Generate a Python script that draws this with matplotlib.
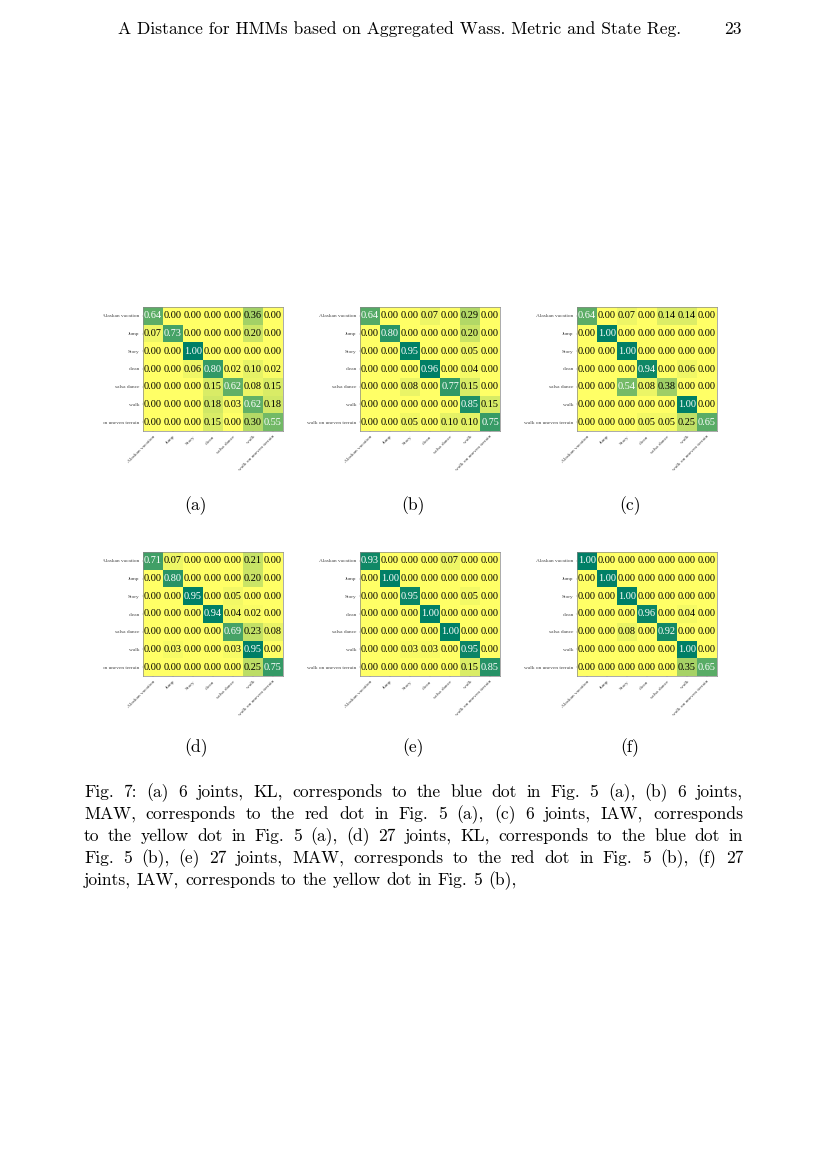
import numpy as np
import matplotlib
matplotlib.use("Agg")
import matplotlib.pyplot as plt
from matplotlib.transforms import Bbox, TransformedBbox

labels = ["Alaskan vacation", "Jump", "Story", "clean", "salsa dance", "walk",
          "walk on uneven terrain"]

cm_a = [[0.64, 0.00, 0.00, 0.00, 0.00, 0.36, 0.00],
        [0.07, 0.73, 0.00, 0.00, 0.00, 0.20, 0.00],
        [0.00, 0.00, 1.00, 0.00, 0.00, 0.00, 0.00],
        [0.00, 0.00, 0.06, 0.80, 0.02, 0.10, 0.02],
        [0.00, 0.00, 0.00, 0.15, 0.62, 0.08, 0.15],
        [0.00, 0.00, 0.00, 0.18, 0.03, 0.62, 0.18],
        [0.00, 0.00, 0.00, 0.15, 0.00, 0.30, 0.55]]
cm_b = [[0.64, 0.00, 0.00, 0.07, 0.00, 0.29, 0.00],
        [0.00, 0.80, 0.00, 0.00, 0.00, 0.20, 0.00],
        [0.00, 0.00, 0.95, 0.00, 0.00, 0.05, 0.00],
        [0.00, 0.00, 0.00, 0.96, 0.00, 0.04, 0.00],
        [0.00, 0.00, 0.08, 0.00, 0.77, 0.15, 0.00],
        [0.00, 0.00, 0.00, 0.00, 0.00, 0.85, 0.15],
        [0.00, 0.00, 0.05, 0.00, 0.10, 0.10, 0.75]]
cm_c = [[0.64, 0.00, 0.07, 0.00, 0.14, 0.14, 0.00],
        [0.00, 1.00, 0.00, 0.00, 0.00, 0.00, 0.00],
        [0.00, 0.00, 1.00, 0.00, 0.00, 0.00, 0.00],
        [0.00, 0.00, 0.00, 0.94, 0.00, 0.06, 0.00],
        [0.00, 0.00, 0.54, 0.08, 0.38, 0.00, 0.00],
        [0.00, 0.00, 0.00, 0.00, 0.00, 1.00, 0.00],
        [0.00, 0.00, 0.00, 0.05, 0.05, 0.25, 0.65]]
cm_d = [[0.71, 0.07, 0.00, 0.00, 0.00, 0.21, 0.00],
        [0.00, 0.80, 0.00, 0.00, 0.00, 0.20, 0.00],
        [0.00, 0.00, 0.95, 0.00, 0.05, 0.00, 0.00],
        [0.00, 0.00, 0.00, 0.94, 0.04, 0.02, 0.00],
        [0.00, 0.00, 0.00, 0.00, 0.69, 0.23, 0.08],
        [0.00, 0.03, 0.00, 0.00, 0.03, 0.95, 0.00],
        [0.00, 0.00, 0.00, 0.00, 0.00, 0.25, 0.75]]
cm_e = [[0.93, 0.00, 0.00, 0.00, 0.07, 0.00, 0.00],
        [0.00, 1.00, 0.00, 0.00, 0.00, 0.00, 0.00],
        [0.00, 0.00, 0.95, 0.00, 0.00, 0.05, 0.00],
        [0.00, 0.00, 0.00, 1.00, 0.00, 0.00, 0.00],
        [0.00, 0.00, 0.00, 0.00, 1.00, 0.00, 0.00],
        [0.00, 0.00, 0.03, 0.03, 0.00, 0.95, 0.00],
        [0.00, 0.00, 0.00, 0.00, 0.00, 0.15, 0.85]]
cm_f = [[1.00, 0.00, 0.00, 0.00, 0.00, 0.00, 0.00],
        [0.00, 1.00, 0.00, 0.00, 0.00, 0.00, 0.00],
        [0.00, 0.00, 1.00, 0.00, 0.00, 0.00, 0.00],
        [0.00, 0.00, 0.00, 0.96, 0.00, 0.04, 0.00],
        [0.00, 0.00, 0.08, 0.00, 0.92, 0.00, 0.00],
        [0.00, 0.00, 0.00, 0.00, 0.00, 1.00, 0.00],
        [0.00, 0.00, 0.00, 0.00, 0.00, 0.35, 0.65]]

panels = ["(a)", "(b)", "(c)", "(d)", "(e)", "(f)"]
matrices = [cm_a, cm_b, cm_c, cm_d, cm_e, cm_f]

header = "A Distance for HMMs based on Aggregated Wass. Metric and State Reg."
page_no = "23"
caption = ["Fig. 7: (a) 6 joints, KL, corresponds to the blue dot in Fig. 5 (a), (b) 6 joints,",
           "MAW, corresponds to the red dot in Fig. 5 (a), (c) 6 joints, IAW, corresponds",
           "to the yellow dot in Fig. 5 (a), (d) 27 joints, KL, corresponds to the blue dot in",
           "Fig. 5 (b), (e) 27 joints, MAW, corresponds to the red dot in Fig. 5 (b), (f) 27",
           "joints, IAW, corresponds to the yellow dot in Fig. 5 (b),"]

W, H = 827, 1169
fig = plt.figure(figsize=(W / 100, H / 100), dpi=100)
fig.patch.set_facecolor("white")

tex = "cmr10"
fs_text = 12.6

col_left = [143, 360, 577]
row_top = [307, 552]
mw, mh = 140, 124
cap_y = [506, 748]


def px(x, y):
    return x / W, 1 - y / H


for k, cm in enumerate(matrices):
    r, c = divmod(k, 3)
    x0, y1 = px(col_left[c], row_top[r] + mh)
    ax = fig.add_axes([x0, y1, mw / W, mh / H])
    cm = np.array(cm)
    ax.imshow(cm, cmap="summer_r", aspect="auto", interpolation="nearest")
    thresh = cm.max() / 2.0
    for i in range(cm.shape[0]):
        for j in range(cm.shape[1]):
            ax.text(j, i, "%.2f" % cm[i, j], ha="center", va="center",
                    fontsize=7.4, family="Liberation Serif",
                    color="white" if cm[i, j] > thresh else "black")
    n = len(labels)
    ax.set_xticks(np.arange(n))
    ax.set_yticks(np.arange(n))
    ax.set_xticklabels(labels, rotation=45, ha="right", rotation_mode="anchor",
                       fontsize=3.9, family="Liberation Serif")
    ax.set_yticklabels(labels, fontsize=3.9, family="Liberation Serif")
    ax.tick_params(length=1.0, width=0.3, pad=1.5, colors="#888888",
                   labelcolor="#444444")
    for s in ax.spines.values():
        s.set_linewidth(0.5)
        s.set_color("#888888")
    if c == 0:
        # labels of the left column are cut by the page box
        clip = TransformedBbox(Bbox([[103 / W, 0], [1, 1]]), fig.transFigure)
        for lab in ax.get_yticklabels():
            lab.set_clip_box(clip)
            lab.set_clip_on(True)
    cx, cy = px(col_left[c] + mw / 2 - 17, cap_y[r])
    fig.text(cx, cy, panels[k], ha="center", va="center", fontsize=fs_text, family=tex)

# running header
hx, hy = px(118, 34)
fig.text(hx, hy, header, ha="left", va="baseline", fontsize=fs_text, family=tex)
px_x, _ = px(742, 34)
fig.text(px_x, hy, page_no, ha="right", va="baseline", fontsize=fs_text, family=tex)

# caption, justified by hand
renderer = fig.canvas.get_renderer()
left, right = 84, 743
space = fs_text * 100 / 72 * 0.333
for li, line in enumerate(caption):
    base = 797 + 22 * li
    words = line.split(" ")
    texts = [fig.text(0, 1 - base / H, w, ha="left", va="baseline",
                      fontsize=fs_text, family=tex) for w in words]
    widths = [t.get_window_extent(renderer).width for t in texts]
    if li < len(caption) - 1:
        gap = (right - left - sum(widths)) / (len(words) - 1)
    else:
        gap = space
    x = left
    for t, w in zip(texts, widths):
        t.set_x(x / W)
        x += w + gap

fig.savefig("out.png", dpi=100, facecolor="white")
